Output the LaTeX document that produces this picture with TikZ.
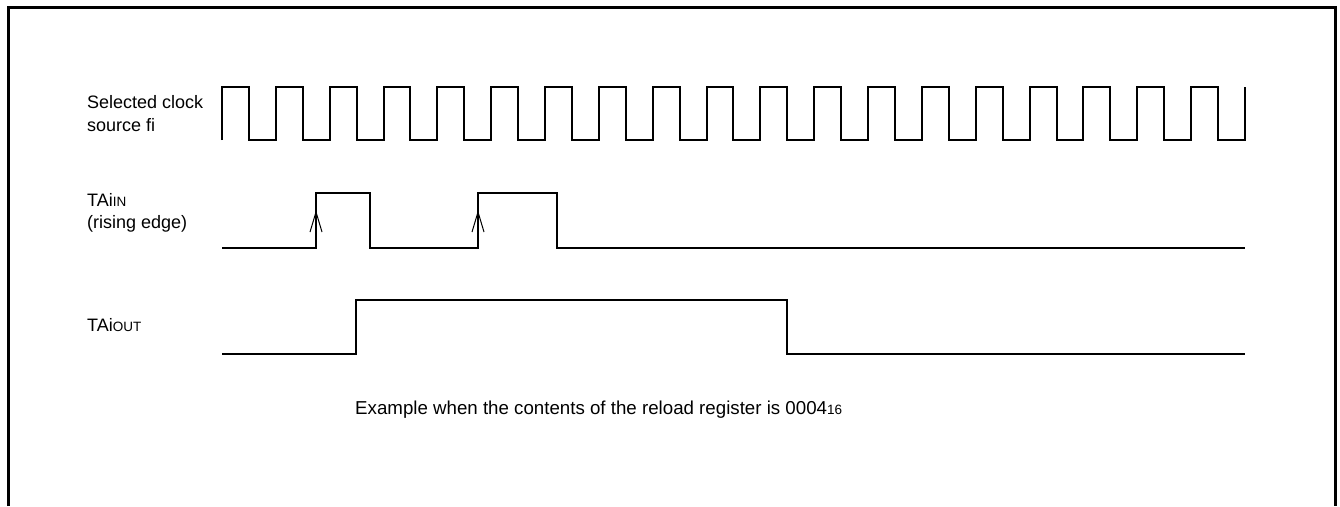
\documentclass[tikz,border=0pt]{standalone}
\usepackage{fontspec}
\setmainfont{Liberation Sans}
\newcommand{\lowpart}[1]{{\fontsize{13.5}{13.5}\selectfont #1}}

\begin{document}
\begin{tikzpicture}[x=1pt,y=-1pt,
  sig/.style={line width=2pt,line join=miter},
  lbl/.style={anchor=base west,inner sep=0pt,font=\fontsize{18}{22}\selectfont}]
  \useasboundingbox (0,0) rectangle (1340,506);
  \draw[line width=3pt] (8,506) -- (8,7) -- (1335,7) -- (1335,506);
  \node[lbl] (clk1) at (87,108) {Selected clock};
  \node[lbl] (clk2) at (87,131) {source fi};
  \draw[sig] (222,140) \foreach \k in {1,...,19} { -- ++(0,-53) -- ++(26.92,0) -- ++(0,53) -- ++(26.92,0) } -- ++(0,-53);
  \node[lbl] (tin1) at (87,206) {TAi\lowpart{IN}};
  \node[lbl] (tin2) at (87,228) {(rising edge)};
  \draw[sig] (222,248) -- (316,248) -- (316,193) -- (370,193) -- (370,248) -- (478,248) -- (478,193) -- (557,193) -- (557,248) -- (1245,248);
  \foreach \x in {316,478} \draw[line width=1pt] (\x-6,232) -- (\x,212) -- (\x+6,232);
  \node[lbl] (tout) at (87,331) {TAi\lowpart{OUT}};
  \draw[sig] (222,354) -- (356,354) -- (356,300) -- (787,300) -- (787,354) -- (1245,354);
  \node[lbl,font=\fontsize{18.7}{22}\selectfont] (note) at (355,414) {Example when the contents of the reload register is 0004\lowpart{16}};
\end{tikzpicture}
\end{document}
